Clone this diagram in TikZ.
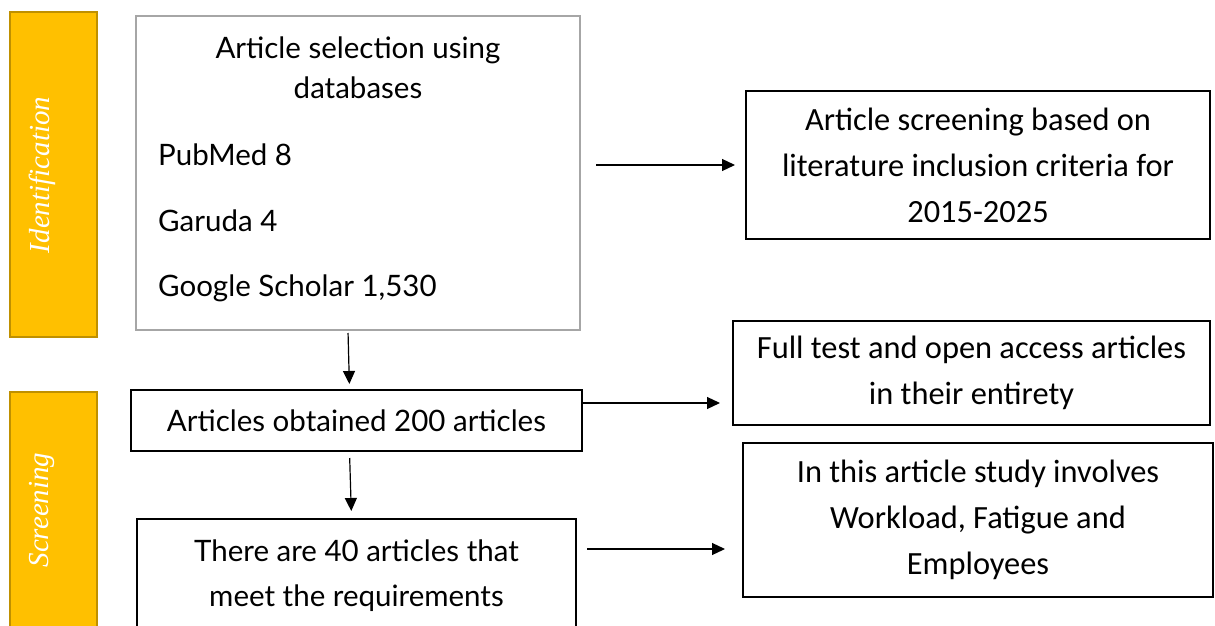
\documentclass[tikz,border=0pt]{standalone}
\usepackage{fontspec}
\setmainfont{Lato}
\newfontfamily\rfont{Carlito}
\newfontfamily\lblfont{Liberation Serif}
\usetikzlibrary{arrows.meta,calc}
\definecolor{bandfill}{HTML}{FFC000}
\definecolor{banddraw}{HTML}{BF9000}
\definecolor{graybox}{HTML}{A6A6A6}
\tikzset{
  band/.style={draw=banddraw, fill=bandfill, line width=1.5pt, minimum width=87pt, inner sep=0pt},
  bandlabel/.style={text=white, font=\lblfont\itshape\fontsize{29}{29}\selectfont, rotate=90, inner sep=0pt},
  lbox/.style={draw=black, line width=2pt, inner sep=0pt, align=center, font=\fontsize{29.5}{45}\selectfont},
  rbox/.style={draw=black, line width=2pt, inner sep=0pt, align=center, font=\rfont\fontsize{32.4}{46}\selectfont},
  gbox/.style={draw=graybox, line width=2pt, inner sep=0pt},
  ltext/.style={inner sep=0pt, font=\fontsize{29.5}{40}\selectfont},
  arr/.style={line width=1.2pt, -{Triangle[length=13pt,width=12pt]}}
}
\begin{document}
\begin{tikzpicture}[x=1pt,y=-1pt]
\useasboundingbox (0,0) rectangle (1215,626);
\clip (0,0) rectangle (1215,626);
\fill[white] (0,0) rectangle (1215,626);
% bands
\node[band, minimum height=325pt] (band1) at (53.5,174.5) {};
\node[bandlabel] (lab1) at (42,175) {Identification};
\node[band, minimum height=260pt] (band2) at (53.5,522) {};
\node[bandlabel] (lab2) at (42,510) {Screening};
% box A
\node[gbox, minimum width=444pt, minimum height=314pt] (A) at (358,173) {};
\node[ltext, align=center] (A0) at (358,68) {Article selection using\\databases};
\node[ltext, anchor=west] (A1) at (158,155) {PubMed 8};
\node[ltext, anchor=west] (A2) at (158,221) {Garuda 4};
\node[ltext, anchor=west] (A3) at (158,288) {Google Scholar 1,530};
% box B
\node[rbox, minimum width=464pt, minimum height=148pt] (B) at (978,165) {Article screening based on\\literature inclusion criteria for\\2015-2025};
% box C
\node[lbox, minimum width=451pt, minimum height=61pt] (C) at (356.5,420.5) {Articles obtained 200 articles};
% box D
\node[rbox, minimum width=477pt, minimum height=104pt] (D) at (971.5,373) {Full test and open access articles\\in their entirety};
% box E
\node[lbox, minimum width=439pt, minimum height=113pt] (E) at (356.5,575.5) {There are 40 articles that\\meet the requirements};
% box F
\node[rbox, minimum width=470pt, minimum height=154pt] (F) at (978,520) {In this article study involves\\Workload, Fatigue and\\Employees};
% connectors
\draw[arr, shorten <=15pt, shorten >=10pt] (A.east |- B.west) -- (B.west);
\draw[arr, shorten <=2pt, shorten >=5pt] ([xshift=-10pt]A.south) -- ([xshift=-7pt]C.north);
\coordinate (Cout) at ($(C.north east)+(0,14)$);
\draw[arr, shorten >=12pt] (Cout) -- (Cout -| D.west);
\draw[arr, shorten <=6pt, shorten >=7pt] ([xshift=-7pt]C.south) -- ([xshift=-5pt]E.north);
\coordinate (Eout) at ($(E.north east)+(0,31)$);
\draw[arr, shorten <=10pt, shorten >=17pt] (Eout) -- (Eout -| F.west);
\end{tikzpicture}
\end{document}
